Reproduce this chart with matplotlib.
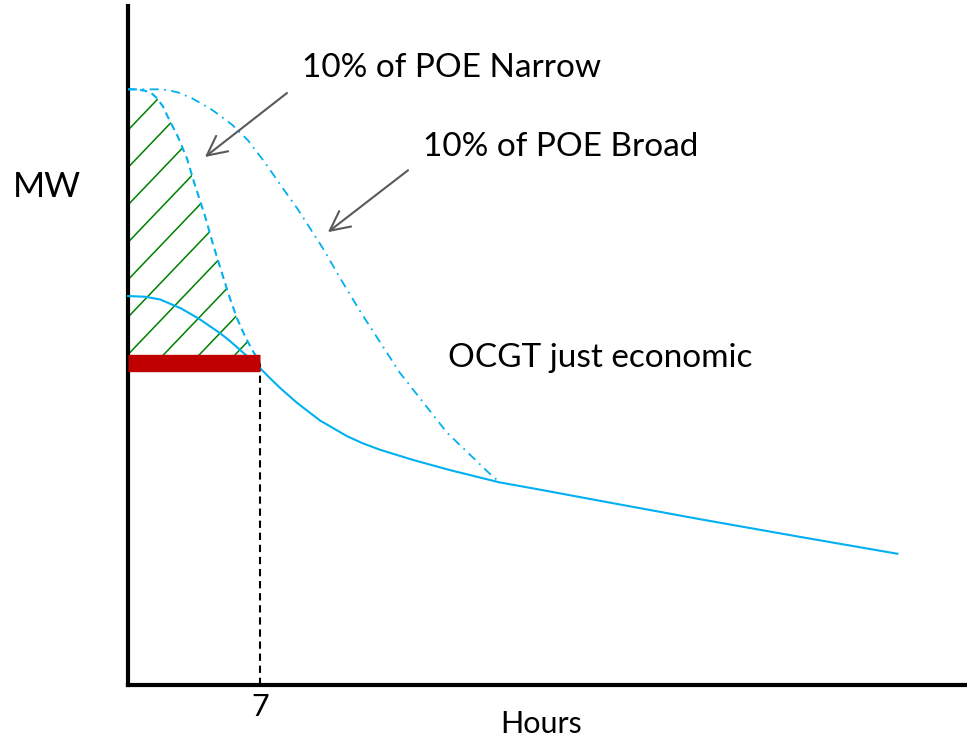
import numpy as np
import matplotlib
matplotlib.use("Agg")
import matplotlib.pyplot as plt

plt.rcParams['font.family'] = ['Lato', 'DejaVu Sans']

# duration curves (hours vs MW)
solid_h = [0, 0.9, 1.7, 2.8, 3.8, 4.9, 5.4, 6.3, 7.0, 7.5, 8.06, 8.96, 10.18, 11.61, 12.4, 13.36, 15.11,
           17.08, 19.7, 21.9, 25.0, 30.3, 35.6, 40.8]
solid_mw = [57.2, 57.1, 56.7, 55.4, 53.8, 51.7, 50.6, 48.4, 46.6, 45.2, 43.7, 41.5, 38.9, 36.6, 35.6, 34.6, 33.1,
            31.6, 29.8, 28.7, 27.1, 24.4, 21.8, 19.3]

narrow_h = [0, 0.4, 0.9, 1.25, 1.54, 1.85, 2.12, 2.65, 3.13, 3.55, 4.08, 4.5, 5.0, 5.4, 5.8, 6.2, 6.6, 7.0]
narrow_mw = [87.6, 87.6, 87.4, 87.0, 86.3, 85.1, 83.5, 80.6, 77.4, 73.5, 69.0, 64.9, 60.4, 56.9, 53.8, 51.3,
             49.2, 47.4]

broad_h = [0, 1.0, 1.6, 2.12, 2.7, 3.39, 4.45, 5.52, 6.36, 7.27, 8.17, 9.02, 9.76, 10.34, 11.3, 12.3, 14.42,
           16.92, 19.36, 19.73]
broad_mw = [87.6, 87.6, 87.6, 87.5, 87.1, 86.3, 84.6, 82.4, 80.1, 76.8, 73.2, 69.9, 66.7, 64.2, 59.6, 55.0,
            45.9, 37.1, 30.6, 29.85]

ocgt_mw = 47.4
ocgt_hours = 7

cyan = '#00B0F0'
grey = '#595959'

fig = plt.figure(figsize=(9.67, 7.4), dpi=100)
ax = fig.add_axes([0, 0, 1, 1])
ax.set_xlim(-6.788, 44.49)
ax.set_ylim(-8.09, 100.74)

for s in ['top', 'right']:
    ax.spines[s].set_visible(False)
ax.spines['left'].set_position(('data', 0))
ax.spines['bottom'].set_position(('data', 0))
ax.spines['left'].set_bounds(0, 99.8)
ax.spines['bottom'].set_bounds(0, 44.5)
ax.spines['left'].set_linewidth(3)
ax.spines['bottom'].set_linewidth(3)
ax.spines['left'].set_capstyle('projecting')
ax.set_yticks([])
ax.set_xticks([ocgt_hours])
ax.set_xticklabels([str(ocgt_hours)])
ax.tick_params(axis='x', length=0, pad=6, labelsize=22)
ax.patch.set_alpha(0)

# hatched area between narrow curve and OCGT level
area = ax.fill_between(narrow_h, narrow_mw, ocgt_mw, facecolor='none', edgecolor='none')
clip = area.get_paths()[0]
slope = 2.9
hh = np.array([-1, 10])
for b in np.arange(81.6, 25, -5.5):
    ln, = ax.plot(hh, b + slope * hh, color='#008000', lw=1.1, zorder=2)
    ln.set_clip_path(clip, ax.transData)

ax.plot(solid_h, solid_mw, color=cyan, lw=1.5, zorder=3)
ax.plot(narrow_h, narrow_mw, color=cyan, lw=1.5, ls=(0, (3.5, 2.3)), zorder=3)
ax.plot(broad_h, broad_mw, color=cyan, lw=1.3, ls=(0, (5, 3, 1, 3)), zorder=3)

ax.vlines(ocgt_hours, 0, ocgt_mw, colors='black', linestyles=(0, (3.5, 2.3)), lw=1.5, zorder=2)
ax.plot([0, ocgt_hours], [ocgt_mw, ocgt_mw], color='#C00000', lw=12.5, solid_capstyle='butt', zorder=4)

arrow = dict(arrowstyle='->,head_length=0.7,head_width=0.35', color=grey, lw=1.5, mutation_scale=20,
             shrinkA=0, shrinkB=0)
ax.annotate('', xy=(4.08, 77.65), xytext=(8.43, 87.06), arrowprops=arrow)
ax.annotate('', xy=(10.6, 66.6), xytext=(14.85, 75.7), arrowprops=arrow)

fs = 24
ax.text(9.23, 89.4, '10% of POE Narrow', fontsize=fs, va='baseline')
ax.text(15.64, 77.8, '10% of POE Broad', fontsize=fs, va='baseline')
ax.text(16.97, 46.8, 'OCGT just economic', fontsize=fs, va='baseline')
ax.text(-6.1, 71.8, 'MW', fontsize=25, va='baseline')
ax.text(19.73, -7.06, 'Hours', fontsize=22, va='baseline')

fig.savefig('out.png', dpi=100)
